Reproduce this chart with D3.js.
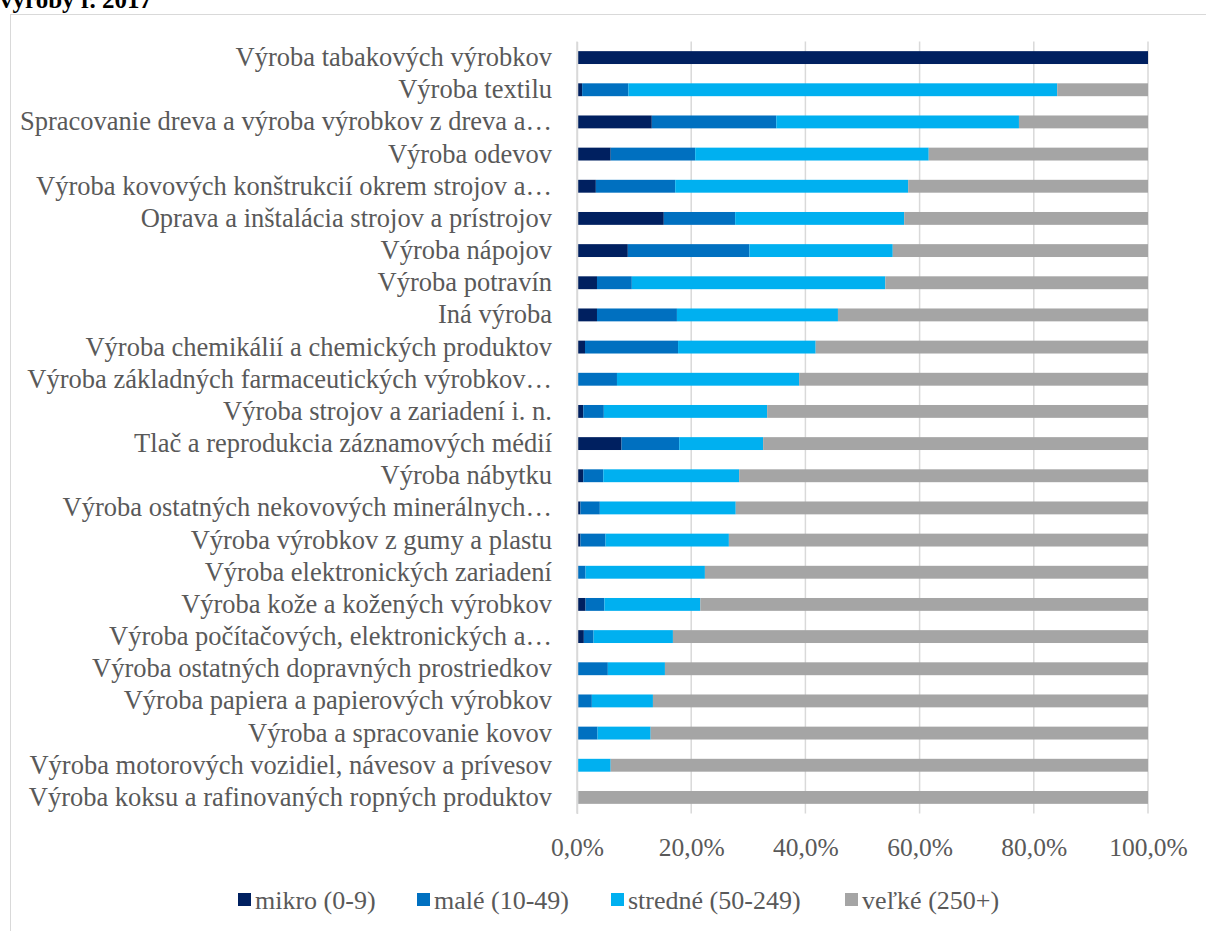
<!DOCTYPE html>
<html>
<head>
<meta charset="utf-8">
<script src="https://cdn.jsdelivr.net/npm/d3@7.9.0/dist/d3.min.js"></script>
<style>
  html, body { margin: 0; padding: 0; background: #fff; }
  svg { display: block; }
</style>
</head>
<body>
<script>
const categories = [
  "Výroba tabakových výrobkov",
  "Výroba textilu",
  "Spracovanie dreva a výroba výrobkov z dreva a…",
  "Výroba odevov",
  "Výroba kovových konštrukcií okrem strojov a…",
  "Oprava a inštalácia strojov a prístrojov",
  "Výroba nápojov",
  "Výroba potravín",
  "Iná výroba",
  "Výroba chemikálií a chemických produktov",
  "Výroba základných farmaceutických výrobkov…",
  "Výroba strojov a zariadení i. n.",
  "Tlač a reprodukcia záznamových médií",
  "Výroba nábytku",
  "Výroba ostatných nekovových minerálnych…",
  "Výroba výrobkov z gumy a plastu ",
  "Výroba elektronických zariadení",
  "Výroba kože a kožených výrobkov",
  "Výroba počítačových, elektronických a…",
  "Výroba ostatných dopravných prostriedkov",
  "Výroba papiera a papierových výrobkov",
  "Výroba a spracovanie kovov",
  "Výroba motorových vozidiel, návesov a prívesov",
  "Výroba koksu a rafinovaných ropných produktov"
];
const mikro   = [100, 0.9, 13.1, 5.9, 3.3, 15.2, 8.9, 3.5, 3.5, 1.4, 0.0, 1.1, 7.8, 1.1, 0.6, 0.6, 0.0, 1.5, 1.2, 0.1, 0.2, 0.0, 0.0, 0.0];
const male    = [0, 8.1, 21.8, 14.8, 13.9, 12.5, 21.3, 6.1, 14.0, 16.3, 7.0, 3.6, 10.1, 3.5, 3.4, 4.4, 1.5, 3.3, 1.7, 5.3, 2.4, 3.6, 0.1, 0.2];
const stredne = [0, 75.1, 42.5, 40.9, 40.8, 29.6, 25.1, 44.4, 28.2, 24.1, 31.9, 28.6, 14.7, 23.8, 23.8, 21.6, 20.9, 16.8, 13.9, 10.0, 10.7, 9.3, 5.8, 0.0];
const velke   = [0, 15.9, 22.6, 38.4, 42.0, 42.7, 44.7, 46.0, 54.3, 58.2, 61.1, 66.7, 67.4, 71.6, 72.2, 73.4, 77.6, 78.4, 83.2, 84.6, 86.7, 87.1, 94.1, 99.8];
const seriesNames = ["mikro (0-9)", "malé (10-49)", "stredné (50-249)", "veľké (250+)"];
const tickValues = [0, 20, 40, 60, 80, 100];

const keys = ["mikro", "male", "stredne", "velke"];
const colors = { mikro: "#002060", male: "#0070C0", stredne: "#00B0F0", velke: "#A5A5A5" };

const width = 1206, height = 931;
const font = "Liberation Serif, Times New Roman, serif";
const textColor = "#595959";

const table = categories.map((c, i) => ({
  cat: c, mikro: mikro[i], male: male[i], stredne: stredne[i], velke: velke[i]
}));

const svg = d3.select("body").append("svg")
  .attr("width", width).attr("height", height)
  .attr("viewBox", [0, 0, width, height]);

// title, cut off at the top like the reference
svg.append("text")
  .attr("x", 0).attr("y", 8)
  .style("font-family", font).attr("font-weight", "bold")
  .attr("font-size", 25).attr("fill", "#000")
  .text("výroby r. 2017");

// chart area frame
svg.append("rect")
  .attr("x", 10.5).attr("y", 14.5)
  .attr("width", width + 10).attr("height", height + 10)
  .attr("fill", "none").attr("stroke", "#d9d9d9");

const x = d3.scaleLinear().domain([0, 100]).range([577, 1148]);
const y = d3.scaleBand().domain(categories).range([41.5, 813.5])
  .paddingInner(0.6).paddingOuter(0.3);

// gridlines
svg.append("g")
  .selectAll("line")
  .data(tickValues)
  .join("line")
    .attr("x1", d => x(d)).attr("x2", d => x(d))
    .attr("y1", 41.5).attr("y2", 813.5)
    .attr("stroke", "#d9d9d9").attr("stroke-width", 1.5);

const stack = d3.stack().keys(keys)(table);

svg.append("g")
  .selectAll("g")
  .data(stack)
  .join("g")
    .attr("fill", d => colors[d.key])
  .selectAll("rect")
  .data(d => d)
  .join("rect")
    .attr("x", d => x(d[0]))
    .attr("y", d => y(d.data.cat))
    .attr("width", d => x(d[1]) - x(d[0]))
    .attr("height", y.bandwidth());

// category axis
svg.append("g")
  .attr("transform", `translate(${x(0)},0)`)
  .call(d3.axisLeft(y).tickSize(0).tickPadding(25))
  .call(g => g.select(".domain").attr("stroke", "#d9d9d9").attr("stroke-width", 1.5))
  .call(g => g.selectAll("text")
    .style("font-family", font).attr("font-size", 26.5).attr("fill", textColor));

// value axis
svg.append("g")
  .attr("transform", `translate(0,813.5)`)
  .call(d3.axisBottom(x).tickValues(tickValues).tickSize(0).tickPadding(24)
    .tickFormat(d => d.toFixed(1).replace(".", ",") + "%"))
  .call(g => g.select(".domain").remove())
  .call(g => g.selectAll("text")
    .style("font-family", font).attr("font-size", 25.5).attr("fill", textColor));

// legend
const legendX = [238, 417, 611, 845];
const legend = svg.append("g")
  .selectAll("g")
  .data(keys)
  .join("g")
    .attr("transform", (d, i) => `translate(${legendX[i]},900)`);
legend.append("rect")
  .attr("x", 0).attr("y", -7).attr("width", 13).attr("height", 13)
  .attr("fill", d => colors[d]);
legend.append("text")
  .attr("x", 17).attr("y", 9)
  .style("font-family", font).attr("font-size", 26).attr("fill", textColor)
  .text((d, i) => seriesNames[i]);
</script>
</body>
</html>
